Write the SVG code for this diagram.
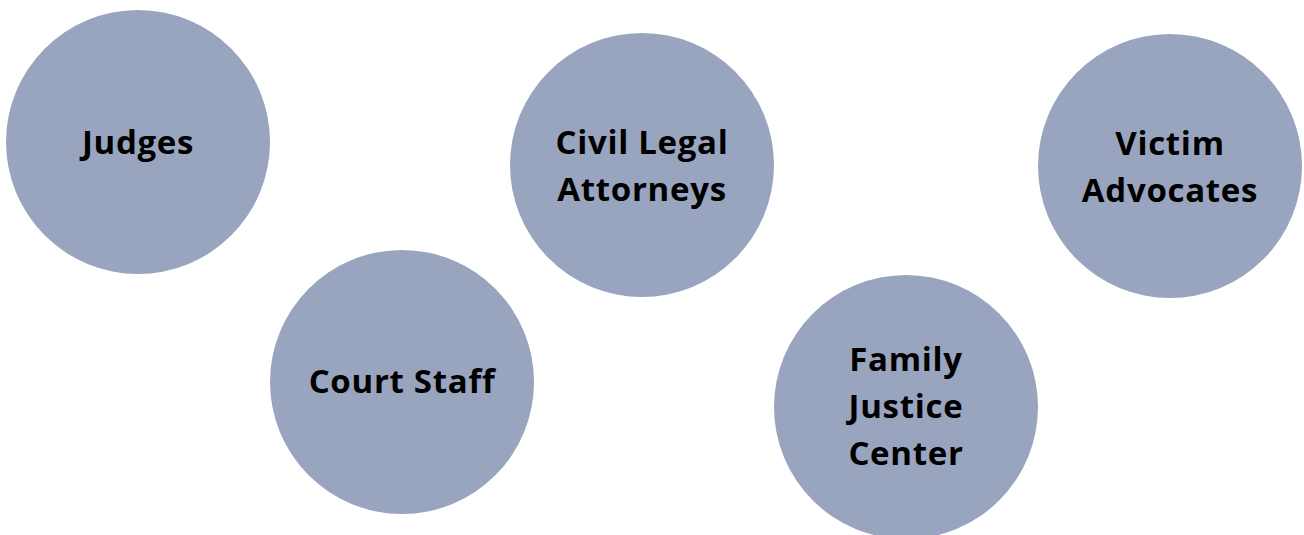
<svg xmlns="http://www.w3.org/2000/svg" width="1304" height="535" viewBox="0 0 1304 535">
<style>
.n{fill:#99a5bf}
.t{font-family:"Open Sans","Liberation Sans",sans-serif;font-weight:bold;font-size:33px;letter-spacing:0.7px;fill:#000;text-anchor:middle}
</style>
<rect width="1304" height="535" fill="#fff"/>
<g id="connectors"/>
<g id="judges"><circle class="n" cx="138" cy="142" r="132"/><text class="t" x="138" y="154">Judges</text></g>
<g id="court-staff"><circle class="n" cx="402" cy="382" r="132"/><text class="t" x="402" y="393">Court Staff</text></g>
<g id="civil-legal"><circle class="n" cx="642" cy="165" r="132"/><text class="t" x="642" y="154">Civil Legal</text><text class="t" x="642" y="201">Attorneys</text></g>
<g id="family-justice"><circle class="n" cx="906" cy="407" r="132"/><text class="t" x="906" y="371">Family</text><text class="t" x="906" y="418">Justice</text><text class="t" x="906" y="465">Center</text></g>
<g id="victim-advocates"><circle class="n" cx="1170" cy="166" r="132"/><text class="t" x="1170" y="155">Victim</text><text class="t" x="1170" y="202">Advocates</text></g>
</svg>
